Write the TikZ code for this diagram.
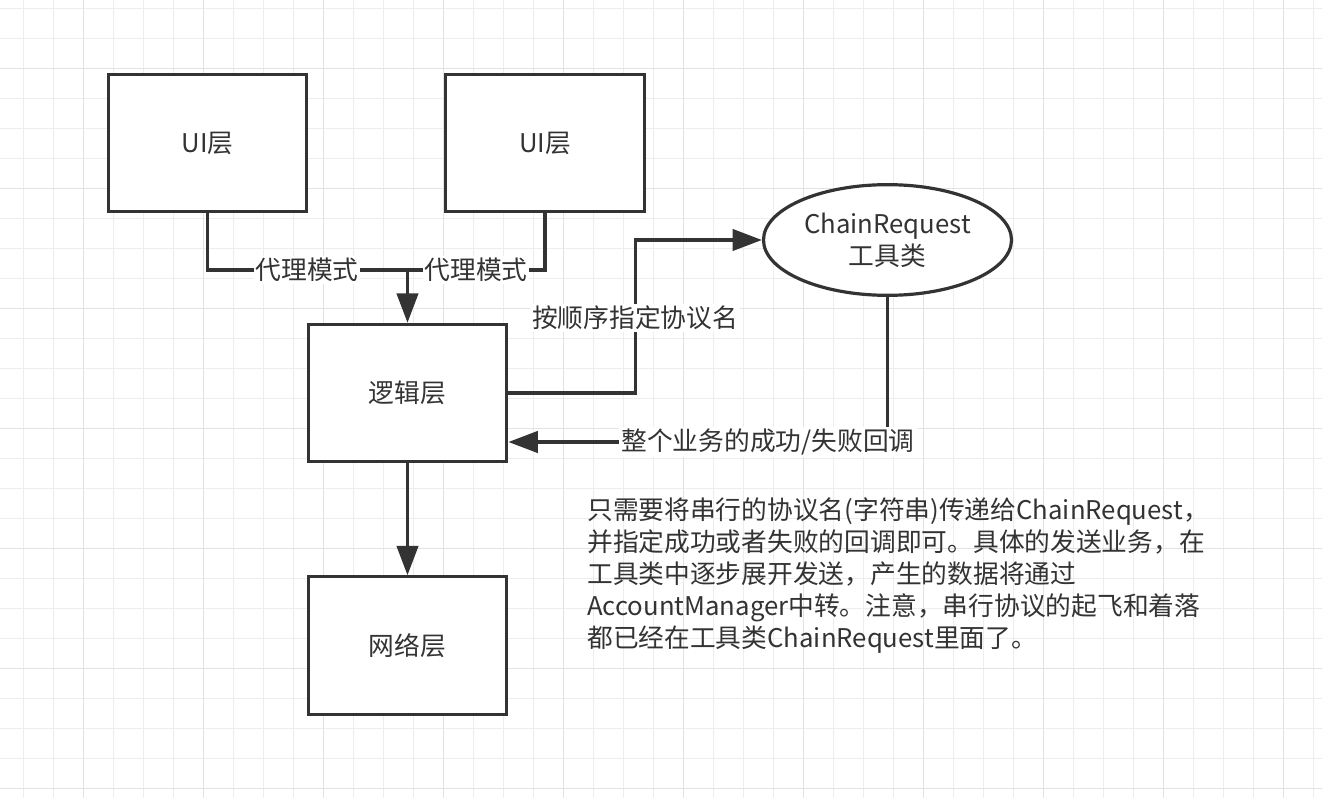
\documentclass[tikz,border=0pt]{standalone}
\usepackage{fontspec}
\setmainfont{Noto Sans CJK SC}
\usepackage{tikz}
\usetikzlibrary{arrows.meta}
\usetikzlibrary{shapes}
\usetikzlibrary{calc}
\definecolor{ink}{HTML}{333333}
\definecolor{gridthin}{HTML}{EDEDED}
\definecolor{gridthick}{HTML}{E2E2E2}

\begin{document}
\begin{tikzpicture}[x=0.75pt,y=-0.75pt,
	every node/.style={font=\fontsize{19.3}{24}\selectfont,text=ink},
	layer/.style={draw=ink,line width=2.4pt,fill=white,minimum width=149pt,minimum height=103pt,inner sep=0pt},
	tool/.style={ellipse,draw=ink,line width=2.4pt,fill=white,minimum width=186pt,minimum height=83pt,align=center,inner sep=0pt},
	conn/.style={draw=ink,line width=2.4pt},
	flow/.style={conn,-{Triangle[length=22pt,width=16pt]}},
	tag/.style={fill=white,inner sep=1.5pt}]
	\useasboundingbox (0,0) rectangle (1322,798);
	\fill[white] (0,0) rectangle (1322,798);
	\foreach \gx in {23.3,53.3,...,1322} \draw[gridthin,line width=1.1pt] (\gx,0) -- (\gx,798);
	\foreach \gy in {8.3,38.3,...,798} \draw[gridthin,line width=1.1pt] (0,\gy) -- (1322,\gy);
	\foreach \gx in {83.3,203.3,...,1322} \draw[gridthick,line width=1.1pt] (\gx,0) -- (\gx,798);
	\foreach \gy in {68.3,188.3,...,798} \draw[gridthick,line width=1.1pt] (0,\gy) -- (1322,\gy);
	
	\node[layer] (uiA) at (207.5,143) {UI层};
	\node[layer] (uiB) at (545,143) {UI层};
	\node[layer] (logic) at (407.5,393) {逻辑层};
	\node[layer] (net) at (407.5,645.5) {网络层};
	\node[tool] (chain) at (887.5,240) {ChainRequest\\工具类};
	
	\coordinate (merge) at (logic.north |- 0,270);
	\draw[conn] (uiA.south) |- (merge);
	\draw[conn] (uiB.south) |- (merge);
	\draw[flow] (merge) -- (logic.north);
	\draw[flow] (logic.south) -- (net.north);
	\draw[flow] (logic.east) -- ++(127,0) |- (chain.west);
	\coordinate (back) at ($(logic.east)+(0,49)$);
	\draw[flow] (chain.south) |- (back);
	
	\node[tag] (proxyA) at (307,270) {代理模式};
	\node[tag] (proxyB) at (476,270) {代理模式};
	\node[tag] (order) at (635,318) {按顺序指定协议名};
	\node[tag] (result) at (768,442) {整个业务的成功/失败回调};
	\node[align=left,anchor=north west,inner sep=0pt] (note) at (587,497) {只需要将串行的协议名(字符串)传递给ChainRequest，\\并指定成功或者失败的回调即可。具体的发送业务，在\\工具类中逐步展开发送，产生的数据将通过\\AccountManager中转。注意，串行协议的起飞和着落\\都已经在工具类ChainRequest里面了。};
\end{tikzpicture}
\end{document}
